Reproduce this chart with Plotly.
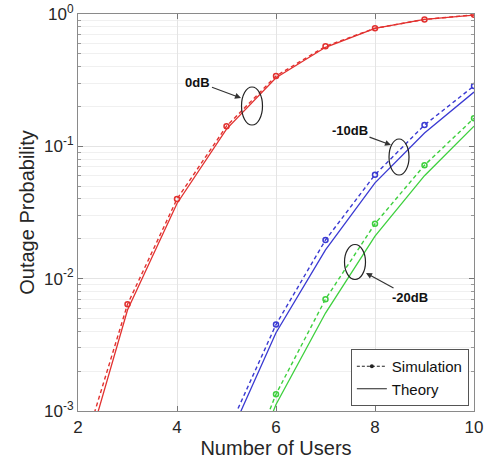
import plotly.graph_objects as go

# ---- data ----
users = [2, 3, 4, 5, 6, 7, 8, 9, 10]
users_hi = [5, 6, 7, 8, 9, 10]

sim_0db = [3.8e-4, 0.0064, 0.040, 0.142, 0.34, 0.57, 0.78, 0.91, 0.985]
theory_0db = [2.95e-4, 0.0058, 0.037, 0.135, 0.33, 0.56, 0.78, 0.91, 0.98]

sim_m10db = [6.7e-4, 0.0045, 0.0196, 0.061, 0.145, 0.286]
theory_m10db = [5.7e-4, 0.0039, 0.0165, 0.053, 0.126, 0.257]

sim_m20db = [1.5e-4, 0.00134, 0.0070, 0.026, 0.072, 0.163]
theory_m20db = [1.3e-4, 0.00112, 0.0055, 0.021, 0.060, 0.142]

x_ticks = [2, 4, 6, 8, 10]
y_ticks = [1e-3, 1e-2, 1e-1, 1]
y_ticktext = ["10<sup>-3</sup>", "10<sup>-2</sup>", "10<sup>-1</sup>", "10<sup>0</sup>"]

RED = "#e2312f"
BLUE = "#3a3ad2"
GREEN = "#3ed03e"

fig = go.Figure()

def add_pair(x, sim, th, color):
    fig.add_trace(go.Scatter(
        x=x, y=th, mode="lines", line=dict(color=color, width=1.3),
        showlegend=False, hoverinfo="skip"))
    fig.add_trace(go.Scatter(
        x=x, y=sim, mode="lines+markers",
        line=dict(color=color, width=1.4, dash="4px,3px"),
        marker=dict(symbol="circle-open", size=5, color=color, line=dict(width=1.5, color=color)),
        showlegend=False, hoverinfo="skip"))

add_pair(users, sim_0db, theory_0db, RED)
add_pair(users_hi, sim_m10db, theory_m10db, BLUE)
add_pair(users_hi, sim_m20db, theory_m20db, GREEN)

# legend entries
fig.add_trace(go.Scatter(
    x=[None], y=[None], mode="lines+markers", name="Simulation",
    line=dict(color="#222", width=1.2, dash="3px,2px"),
    marker=dict(symbol="circle", size=4, color="#222")))
fig.add_trace(go.Scatter(
    x=[None], y=[None], mode="lines", name="Theory",
    line=dict(color="#222", width=1.2)))

minor_vals = [k * 10 ** e for e in (-3, -2, -1) for k in range(2, 10)]

fig.update_xaxes(
    range=[2, 10], tickvals=x_ticks, ticks="inside", ticklen=5, tickcolor="#777",
    showgrid=True, gridcolor="#e4e4e4", gridwidth=1,
    showline=True, linecolor="#8a8a8a", linewidth=1.2, mirror="ticks",
    zeroline=False, automargin=False, ticklabeloverflow="allow",
    title=dict(text="Number of Users", font=dict(size=20, color="#262626"), standoff=4),
    tickfont=dict(size=17, color="#262626"),
)
fig.update_yaxes(
    type="log", range=[-3, 0], tickvals=y_ticks, ticktext=y_ticktext,
    ticks="inside", ticklen=5, tickcolor="#777",
    showgrid=True, gridcolor="#e4e4e4", gridwidth=1,
    minor=dict(tickvals=minor_vals, ticks="inside", ticklen=3, tickcolor="#999",
               showgrid=True, gridcolor="#f0f0f0"),
    showline=True, linecolor="#8a8a8a", linewidth=1.2, mirror="ticks",
    zeroline=False, automargin=False, ticklabeloverflow="allow",
    title=dict(text="Outage Probability", font=dict(size=20, color="#262626"), standoff=4),
    tickfont=dict(size=17, color="#262626"),
)

# ellipses (paper coords)
for x0, x1, y0, y1 in [(0.4129, 0.4659, 0.7204, 0.8161),
                       (0.7854, 0.8359, 0.5945, 0.6851),
                       (0.673, 0.726, 0.3312, 0.4194)]:
    fig.add_shape(type="circle", xref="paper", yref="paper",
                  x0=x0, x1=x1, y0=y0, y1=y1,
                  line=dict(color="#222", width=1.2))

ann_font = dict(family="Liberation Sans, Arial", size=13, color="#111")
for txt, x, y, ax, ay in [("<b>0dB</b>", 0.4116, 0.7884, -43, -16),
                          ("<b>-10dB</b>", 0.7904, 0.6700, -41, -15),
                          ("<b>-20dB</b>", 0.7273, 0.3476, 44, 24)]:
    fig.add_annotation(text=txt, x=x, y=y, xref="paper", yref="paper",
                       ax=ax, ay=ay, showarrow=True, arrowhead=2, arrowsize=1,
                       arrowwidth=1.2, arrowcolor="#333", font=ann_font)

fig.update_layout(
    width=496, height=461,
    margin=dict(l=78, r=22, t=14, b=50),
    paper_bgcolor="white", plot_bgcolor="white",
    font=dict(family="Liberation Sans, Arial, sans-serif", color="#262626"),
    showlegend=True,
    legend=dict(x=0.987, y=0.0126, xanchor="right", yanchor="bottom",
                bgcolor="white", bordercolor="#555", borderwidth=1,
                font=dict(size=15, color="#111"), itemwidth=30,
                tracegroupgap=0),
)

fig.write_html("out.html",
               config={"displayModeBar": False},
               post_script="document.body.style.margin='0';document.body.style.overflow='hidden';")
